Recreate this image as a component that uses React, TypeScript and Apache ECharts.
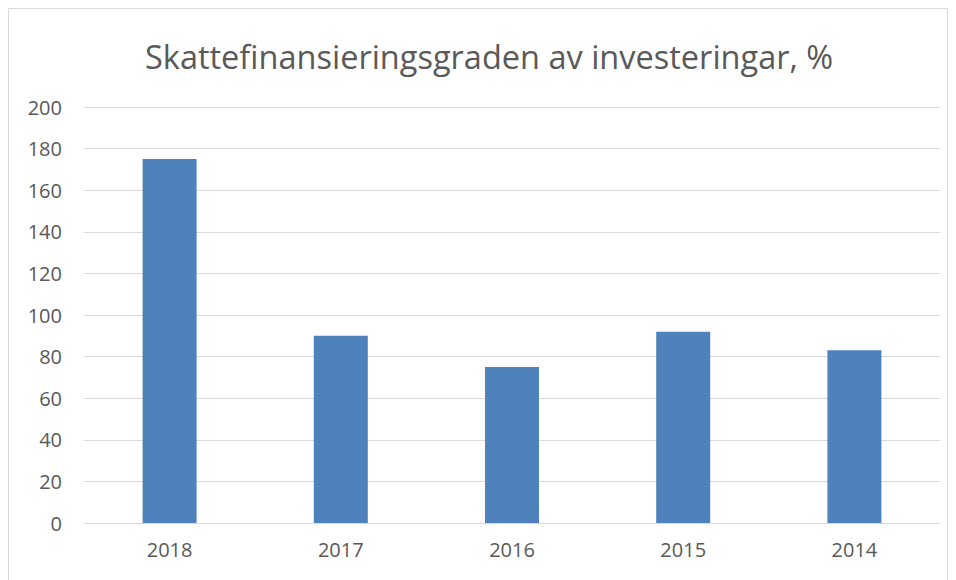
import React, { useEffect, useRef } from "react";
import * as echarts from "echarts";

const titleText = "Skattefinansieringsgraden av investeringar, %";
const categories = ["2018", "2017", "2016", "2015", "2014"];
const values = [175, 90, 75, 92, 83];
const yMin = 0;
const yMax = 200;
const yStep = 20;

export default function App() {
  const ref = useRef<HTMLDivElement>(null);
  useEffect(() => {
    if (!ref.current) return;
    const chart = echarts.init(ref.current, undefined, { renderer: "svg" });
    chart.setOption({
      animation: false,
      backgroundColor: "#ffffff",
      title: {
        text: titleText,
        left: 140,
        top: 35,
        textStyle: {
          fontFamily: "Open Sans",
          fontSize: 32.5,
          fontWeight: "normal",
          color: "#595959",
        },
      },
      graphic: [
        {
          type: "rect",
          shape: { x: 8.5, y: 8.5, width: 939, height: 600 },
          style: { fill: "none", stroke: "#d9d9d9", lineWidth: 1 },
          silent: true,
        },
      ],
      grid: { left: 84, right: 16, top: 107, bottom: 57 },
      xAxis: {
        type: "category",
        data: categories,
        axisLine: { show: true, lineStyle: { color: "#d9d9d9", width: 1 } },
        axisTick: { show: false },
        axisLabel: {
          color: "#595959",
          fontFamily: "Open Sans",
          fontSize: 20,
          margin: 16,
        },
      },
      yAxis: {
        type: "value",
        min: yMin,
        max: yMax,
        interval: yStep,
        axisLine: { show: false },
        axisTick: { show: false },
        splitLine: { lineStyle: { color: "#d9d9d9", width: 1 } },
        axisLabel: {
          color: "#595959",
          fontFamily: "Open Sans",
          fontSize: 20,
          margin: 22,
        },
      },
      series: [
        {
          type: "bar",
          data: values,
          barWidth: 54,
          itemStyle: { color: "#4f81bd" },
        },
      ],
    });
    return () => chart.dispose();
  }, []);
  return (
    <div style={{ position: "fixed", left: 0, top: 0, width: 956, height: 580 }}>
      <div ref={ref} style={{ width: 956, height: 580 }} />
    </div>
  );
}
